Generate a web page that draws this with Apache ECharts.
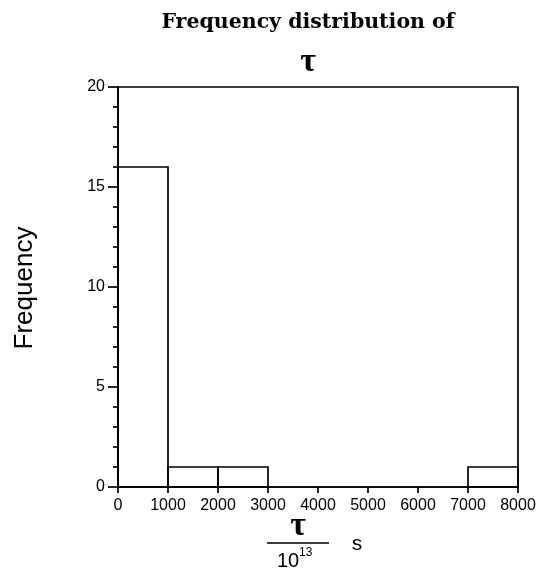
<!DOCTYPE html>
<html>
<head>
<meta charset="utf-8">
<script src="https://cdn.jsdelivr.net/npm/echarts@6/dist/echarts.min.js"></script>
<style>
  html, body { margin: 0; padding: 0; background: #fff; }
  #chart { width: 540px; height: 569px; }
</style>
</head>
<body>
<div id="chart"></div>
<script>
// Histogram bins (lower edge, upper edge) of τ / 10^13 s and their counts
const binStarts = [0, 1000, 2000, 7000];
const binEnds = [1000, 2000, 3000, 8000];
const frequencies = [16, 1, 1, 1];

const xTickLabels = ['0', '1000', '2000', '3000', '4000', '5000', '6000', '7000', '8000'];
const yTickLabels = ['0', '5', '10', '15', '20'];

const bins = binStarts.map((s, i) => [s, binEnds[i], frequencies[i]]);

const chart = echarts.init(document.getElementById('chart'), null, { renderer: 'canvas' });

const sans = 'Liberation Sans, Arial, Helvetica, sans-serif';
const serif = 'DejaVu Serif, Liberation Serif, serif';
const tauFont = 'Liberation Serif, serif';
const lw = 1.7;

chart.setOption({
  animation: false,
  backgroundColor: '#fff',
  grid: {
    left: 118, right: 22, top: 87, bottom: 82,
    show: true, borderColor: '#000', borderWidth: lw, backgroundColor: 'transparent'
  },
  xAxis: {
    type: 'value',
    min: 0, max: 8000, interval: 1000,
    axisLine: { show: true, lineStyle: { color: '#000', width: lw } },
    axisTick: { show: true, length: 6, lineStyle: { color: '#000', width: lw } },
    splitLine: { show: false },
    axisLabel: {
      margin: 11, color: '#000', fontFamily: sans, fontSize: 16,
      formatter: (v) => xTickLabels[Math.round(v / 1000)] ?? ''
    }
  },
  yAxis: {
    type: 'value',
    min: 0, max: 20, interval: 5,
    axisLine: { show: true, lineStyle: { color: '#000', width: lw } },
    axisTick: { show: true, length: 10, lineStyle: { color: '#000', width: lw } },
    minorTick: { show: true, splitNumber: 5, length: 5, lineStyle: { color: '#000', width: lw } },
    splitLine: { show: false },
    axisLabel: {
      margin: 13, color: '#000', fontFamily: sans, fontSize: 16,
      formatter: (v) => yTickLabels[Math.round(v / 5)] ?? ''
    }
  },
  series: [{
    type: 'custom',
    data: bins,
    encode: { x: [0, 1], y: 2 },
    renderItem: function (params, api) {
      const p0 = api.coord([api.value(0), api.value(2)]);
      const p1 = api.coord([api.value(1), 0]);
      return {
        type: 'rect',
        shape: { x: p0[0], y: p0[1], width: p1[0] - p0[0], height: p1[1] - p0[1] },
        style: { fill: 'none', stroke: '#000', lineWidth: lw }
      };
    }
  }],
  graphic: [
    // Two-line title
    {
      type: 'text', position: [308, 23],
      style: { text: 'Frequency distribution of', fontFamily: serif, fontWeight: 'bold', fontSize: 20.5, fill: '#000', align: 'center', verticalAlign: 'middle' }
    },
    {
      type: 'text', position: [308, 62],
      style: { text: 'τ', fontFamily: tauFont, fontWeight: 'bold', fontSize: 34, fill: '#000', align: 'center', verticalAlign: 'middle' }
    },
    // Y axis name
    {
      type: 'text', position: [25, 288], rotation: Math.PI / 2,
      style: { text: 'Frequency', fontFamily: sans, fontSize: 26, fill: '#000', align: 'center', verticalAlign: 'middle' }
    },
    // X axis name: τ / 10^13  s
    {
      type: 'text', position: [298, 526],
      style: { text: 'τ', fontFamily: tauFont, fontWeight: 'bold', fontSize: 34, fill: '#000', align: 'center', verticalAlign: 'middle' }
    },
    {
      type: 'line', shape: { x1: 267, y1: 543, x2: 329, y2: 543 },
      style: { stroke: '#000', lineWidth: 1.4 }
    },
    {
      type: 'text', position: [277, 561],
      style: { text: '10', fontFamily: sans, fontSize: 20, fill: '#000', align: 'left', verticalAlign: 'middle' }
    },
    {
      type: 'text', position: [299, 553],
      style: { text: '13', fontFamily: sans, fontSize: 12, fill: '#000', align: 'left', verticalAlign: 'middle' }
    },
    {
      type: 'text', position: [357, 544],
      style: { text: 's', fontFamily: sans, fontSize: 21, fill: '#000', align: 'center', verticalAlign: 'middle' }
    }
  ]
});
</script>
</body>
</html>
